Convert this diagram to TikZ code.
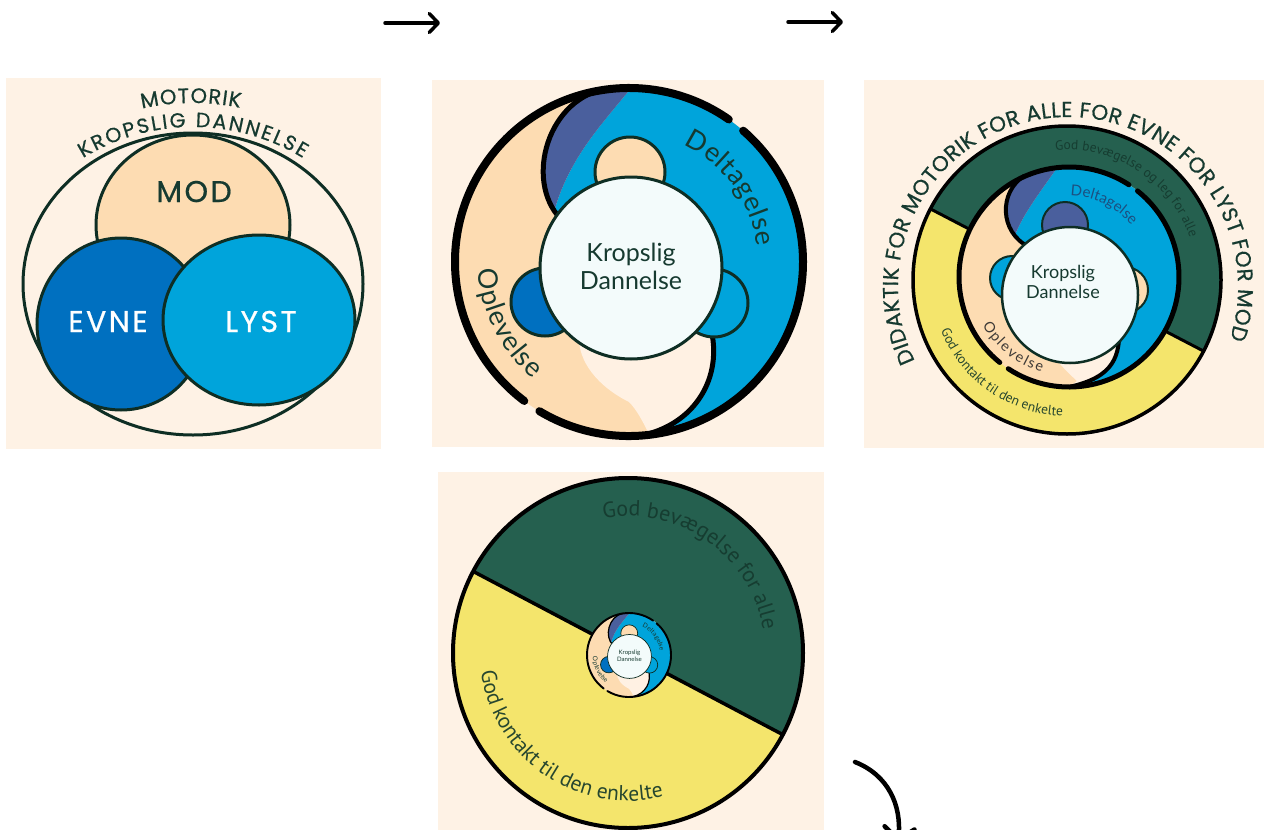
\documentclass[tikz,border=0pt]{standalone}
\usepackage{fontspec}
\usetikzlibrary{decorations.text,arrows.meta}
\newfontfamily\poppins[FakeBold=0.6]{Poppins}
\newfontfamily\lato{Lato}
\newfontfamily\ptsans{PT Sans}
\definecolor{bg}{HTML}{FEF2E5}
\definecolor{ink}{HTML}{0E2E24}
\definecolor{txt}{HTML}{163A30}
\definecolor{peach}{HTML}{FDDCB2}
\definecolor{dblu}{HTML}{0070C0}
\definecolor{blu}{HTML}{00A4DB}
\definecolor{purp}{HTML}{4A5F9D}
\definecolor{crm}{HTML}{FFF1E3}
\definecolor{ctr}{HTML}{F3FBFB}
\definecolor{rgreen}{HTML}{25604F}
\definecolor{ryellow}{HTML}{F4E56C}
\definecolor{gtxt}{HTML}{163D31}
\definecolor{ktxt}{HTML}{27472F}
\definecolor{dtxt}{HTML}{1C4F80}
\definecolor{otxt}{HTML}{3E3A36}
\tikzset{
  outl/.style={draw=ink, line width=3pt},
  bigword/.style={anchor=base, inner sep=0pt, font=\poppins\fontsize{30}{30}\selectfont\addfontfeature{LetterSpace=8}},
  arr/.style={line width=3.5pt, line cap=round, -{Straight Barb[length=9pt,width=19pt,round]}},
  arrb/.style={line width=4.5pt, line cap=round, -{Straight Barb[length=12pt,width=30pt,round]}},
}
\newcommand\PanelTwo[2]{%
\begin{scope}[scale=#1]
 \fill[peach] (0,0) circle[radius=174];
 \fill[blu] (2,174) arc[start angle=89.3,end angle=-85,radius=174] -- (15,-173) .. controls (70,-160) and (96,-110) .. (80,-60) -- (2,-6) -- (-75,50) .. controls (-60,105) and (-25,140) .. (2,174) -- cycle;
 \fill[purp] (-25,173) .. controls (-85,160) and (-105,75) .. (-65,40) -- (-75,50) .. controls (-60,105) and (-25,140) .. (2,174) arc[start angle=89.3,end angle=98.2,radius=174] -- cycle;
 \fill[crm] (-50,-72) .. controls (-52,-100) and (-30,-125) .. (0,-140) .. controls (8,-148) and (14,-160) .. (20,-172) -- (15,-173) .. controls (70,-160) and (96,-110) .. (80,-60) -- (2,-6) -- cycle;
 \draw[black, line width=#1*5pt] (-25,173) .. controls (-85,160) and (-105,75) .. (-65,40);
 \draw[black, line width=#1*5pt] (15,-173) .. controls (70,-160) and (96,-110) .. (80,-60);
 \draw[black, line width=#1*8pt, line cap=round] (55:174) arc[start angle=55,end angle=233,radius=174];
 \draw[black, line width=#1*8pt, line cap=round] (239:174) arc[start angle=239,end angle=409,radius=174];
 \draw[fill=peach, draw=ink, line width=#1*3pt] (1,90) circle[radius=35];
 \draw[fill=dblu, draw=ink, line width=#1*3pt] (-84,-40) circle[radius=34];
 \draw[fill=blu, draw=ink, line width=#1*3pt] (85,-41) circle[radius=34];
 \draw[fill=ctr, draw=ink, line width=#1*3pt] (2,-6) circle[radius=91];
 \node[align=center, text=txt, inner sep=0pt, font=\lato\fontsize{\fpeval{25*#1}}{\fpeval{28*#1}}\selectfont] (#2kd) at (2,-4) {Kropslig\\Dannelse};
 \path[decorate, decoration={text along path, text color=txt, text align=fit to path,
   text={|\lato\fontsize{\fpeval{27*#1}}{\fpeval{27*#1}}\selectfont|Deltagelse}}]
   (65:129) arc[start angle=65,end angle=7,radius=129];
 \path[decorate, decoration={text along path, text color=txt, text align=fit to path,
   text={|\lato\fontsize{\fpeval{27*#1}}{\fpeval{27*#1}}\selectfont|Oplevelse}}]
   (183:151) arc[start angle=183,end angle=230.5,radius=151];
\end{scope}}
\begin{document}
\begin{tikzpicture}[x=1pt,y=1pt]
\useasboundingbox (0,-830) rectangle (1264,0);
\fill[white] (0,-830) rectangle (1264,0);
\fill[bg] (6,-78) rectangle (381,-449);
\fill[bg] (432,-80) rectangle (824,-447);
\fill[bg] (864,-80) rectangle (1264,-448);
\fill[bg] (438,-472) rectangle (824,-830);
% ---------- panel 1
\draw[ink, line width=3pt] (193,-284) ellipse[x radius=170, y radius=151];
\draw[fill=peach, outl] (193,-225) ellipse[x radius=97, y radius=90];
\draw[fill=dblu, outl] (121,-324) ellipse[x radius=84, y radius=86];
\draw[fill=blu, outl] (259,-320) ellipse[x radius=96, y radius=85];
\node[bigword, text=txt] (mod) at (194,-202) {MOD};
\node[bigword, text=white] (evne) at (108,-332) {EVNE};
\node[bigword, text=white] (lyst) at (261,-332) {LYST};
\path[decorate, decoration={text along path, text color=txt, text align=fit to path,
   text={|\poppins\fontsize{21}{21}\selectfont|MOTORIK}}]
   ([shift={(102.6:234)}]193,-337) arc[start angle=102.6,end angle=78.4,radius=234];
\path[decorate, decoration={text along path, text color=txt, text align=fit to path,
   text={|\poppins\fontsize{20.5}{20.5}\selectfont|KROPSLIG DANNELSE}}]
   ([shift={(121.6:210)}]193,-337) arc[start angle=121.6,end angle=58.4,radius=210];
% ---------- panel 2
\begin{scope}[shift={(629,-262)}]
 \PanelTwo{1}{pa}
\end{scope}
% ---------- panel 3
\begin{scope}[shift={(1067,-280)}]
 \fill[rgreen] (-27.5:154) arc[start angle=-27.5,end angle=152.5,radius=154] -- cycle;
 \fill[ryellow] (152.5:154) arc[start angle=152.5,end angle=332.5,radius=154] -- cycle;
 \draw[black, line width=3.5pt] (0,0) circle[radius=154];
 \draw[black, line width=3pt] (152.5:154) -- (-27.5:154);
 \path[decorate, decoration={text along path, text color=gtxt, text align=center,
   text={|\ptsans\fontsize{13.5}{13.5}\selectfont|God bevægelse og leg for alle}}]
   (147:130) arc[start angle=147,end angle=-33,radius=130];
 \path[decorate, decoration={text along path, text color=ktxt, text align=center,
   text={|\ptsans\fontsize{13.5}{13.5}\selectfont|God kontakt til den enkelte}}]
   (145:136) arc[start angle=145,end angle=325.2,radius=136];
\end{scope}
\begin{scope}[shift={(1069,-277)}]
 \fill[peach] (0,0) circle[radius=110];
 \fill[blu] (-12,109.3) arc[start angle=96.3,end angle=-88,radius=110] -- (0,-110) .. controls (45,-100) and (52,-80) .. (50,-45) -- (1,-18) -- (-40,30) -- (-54,42) .. controls (-45,65) and (-25,90) .. (-12,109.3) -- cycle;
 \fill[purp] (-45,101) .. controls (-70,85) and (-70,45) .. (-40,30) -- (-54,42) .. controls (-45,65) and (-25,90) .. (-12,109.3) arc[start angle=96.3,end angle=114,radius=110] -- cycle;
 \fill[crm] (-30,-55) .. controls (-22,-75) and (-5,-92) .. (8,-104) -- (0,-110) .. controls (45,-100) and (52,-80) .. (50,-45) -- (1,-18) -- cycle;
 \draw[black, line width=4pt] (-45,101) .. controls (-70,85) and (-70,45) .. (-40,30);
 \draw[black, line width=4pt] (0,-110) .. controls (45,-100) and (52,-80) .. (50,-45);
 \draw[black, line width=5pt, line cap=round] (57:110) arc[start angle=57,end angle=231,radius=110];
 \draw[black, line width=5pt, line cap=round] (236.5:110) arc[start angle=236.5,end angle=411.5,radius=110];
 \draw[fill=purp, draw=ink, line width=2pt] (-4,52) circle[radius=23];
 \draw[fill=blu, draw=ink, line width=2pt] (-57,-1) circle[radius=22];
 \draw[fill=peach, draw=ink, line width=2pt] (56,-13) circle[radius=23];
 \draw[fill=ctr, draw=ink, line width=2.5pt] (1,-18) circle[radius=68];
 \node[align=center, text=txt, inner sep=0pt, font=\lato\fontsize{18}{20}\selectfont] (p3kd) at (-6,-5) {Kropslig\\Dannelse};
 \path[decorate, decoration={text along path, text color=dtxt, text align=fit to path,
   text={|\lato\fontsize{15}{15}\selectfont|Deltagelse}}]
   (89:81) arc[start angle=89,end angle=39.5,radius=81];
 \path[decorate, decoration={text along path, text color=otxt, text align=fit to path,
   text={|\lato\fontsize{14.5}{14.5}\selectfont|Oplevelse}}]
   (209:99) arc[start angle=209,end angle=254,radius=99];
\end{scope}
\begin{scope}[shift={(1068,-287)}]
 \path[decorate, decoration={text along path, text color=txt, text align=fit to path,
   text={|\poppins\fontsize{21.5}{21.5}\selectfont|DIDAKTIK FOR MOTORIK FOR ALLE FOR EVNE FOR LYST FOR MOD}}]
   (205.8:170) arc[start angle=205.8,end angle=-17.9,radius=170];
\end{scope}
% ---------- panel 4
\begin{scope}[shift={(628,-653)}]
 \fill[rgreen] (-27.8:175) arc[start angle=-27.8,end angle=152.2,radius=175] -- cycle;
 \fill[ryellow] (152.2:175) arc[start angle=152.2,end angle=332.2,radius=175] -- cycle;
 \draw[black, line width=4pt] (0,0) circle[radius=175];
 \draw[black, line width=3.5pt] (152.2:175) -- (-27.8:175);
 \path[decorate, decoration={text along path, text color=gtxt, text align=center,
   text={|\ptsans\fontsize{22}{22}\selectfont|God bevægelse for alle}}]
   (140:137) arc[start angle=140,end angle=-30,radius=137];
 \path[decorate, decoration={text along path, text color=ktxt, text align=center,
   text={|\ptsans\fontsize{21.5}{21.5}\selectfont|God kontakt til den enkelte}}]
   (150:148) arc[start angle=150,end angle=321,radius=148];
\end{scope}
\begin{scope}[shift={(629,-655)}]
 \PanelTwo{0.2414}{pb}
\end{scope}
% ---------- arrows
\coordinate (a1s) at (385,-23); \coordinate (a1e) at (440,-23);
\coordinate (a2s) at (788,-22); \coordinate (a2e) at (843,-22);
\coordinate (a3s) at (855,-762); \coordinate (a3e) at (898,-842);
\draw[arr] (a1s) -- (a1e);
\draw[arr] (a2s) -- (a2e);
\draw[arrb] (a3s) .. controls (888,-775) and (902,-805) .. (a3e);
\end{tikzpicture}
\end{document}
